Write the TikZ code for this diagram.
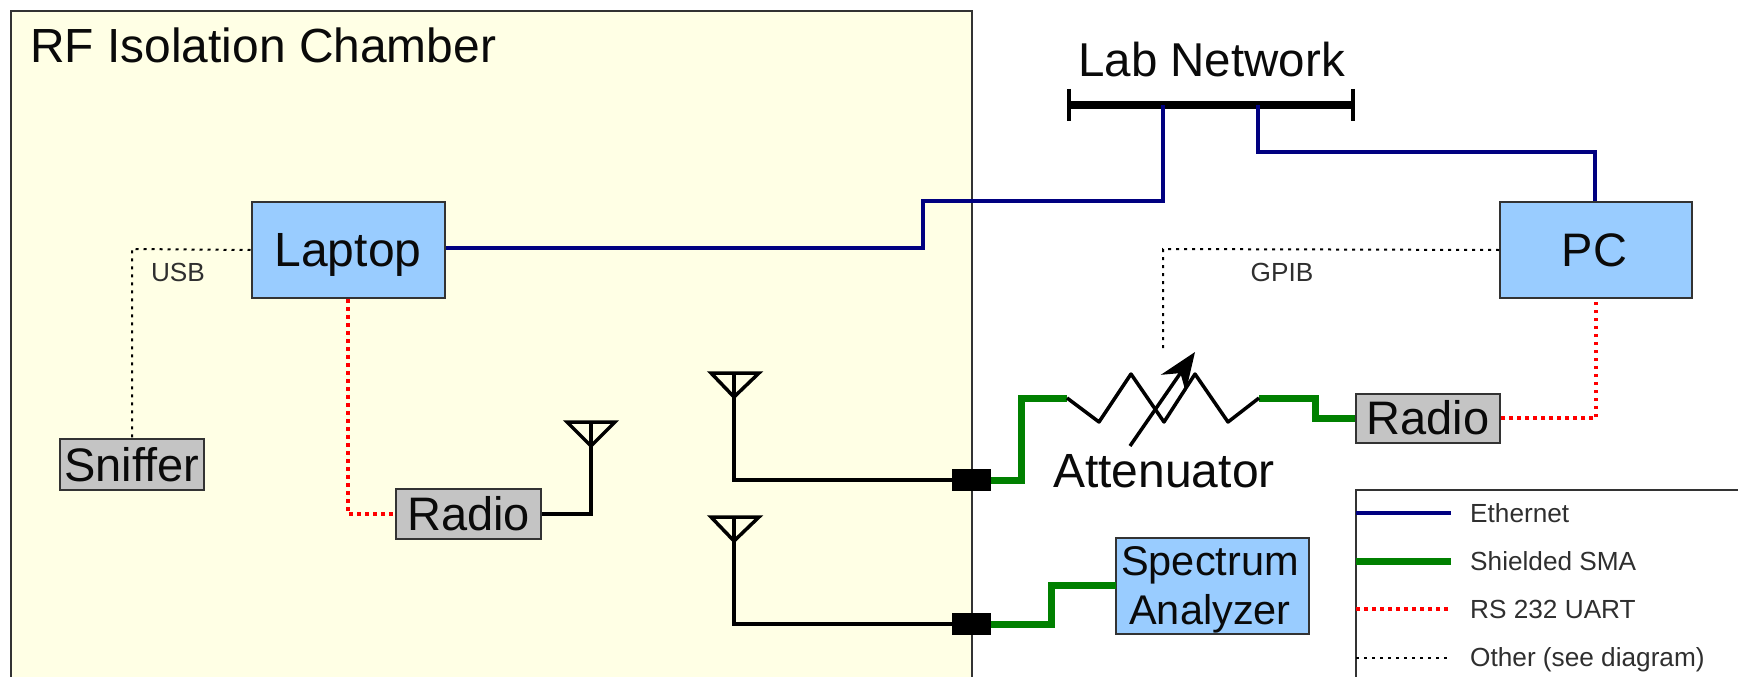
\documentclass[tikz,border=0pt]{standalone}
\usepackage{fontspec}
\setmainfont{Liberation Sans}
\usetikzlibrary{arrows.meta}
\definecolor{chamberfill}{HTML}{FFFFE5}
\definecolor{boxblue}{HTML}{99CCFF}
\definecolor{boxgray}{HTML}{C4C4C4}
\definecolor{edge}{HTML}{333333}
\definecolor{navyline}{HTML}{000080}
\definecolor{sma}{HTML}{008000}
\definecolor{textcol}{HTML}{0A0A0A}
\newcommand{\boxtext}[1]{\raisebox{-16.5pt}[0pt][0pt]{#1}}
\tikzset{
  x=1pt,y=-1pt,
  bigfont/.style={font=\fontsize{47}{49}\selectfont,text=textcol},
  smallfont/.style={font=\fontsize{26.2}{27}\selectfont,text=textcol!85!white},
  device/.style={draw=edge,line width=2pt,fill=boxblue,inner sep=0pt,bigfont},
  graybox/.style={draw=edge,line width=2pt,fill=boxgray,inner sep=0pt,bigfont},
  plainlabel/.style={inner sep=0pt,anchor=base west},
  eth/.style={draw=navyline,line width=3.5pt,line join=miter},
  shielded/.style={draw=sma,line width=7pt,line join=miter},
  uart/.style={draw=red,line width=3.5pt,dash pattern=on 3.5pt off 4.5pt},
  other/.style={draw=black,line width=2pt,dash pattern=on 3pt off 5pt},
  wire/.style={draw=black,line width=3.5pt,line join=miter},
  resist/.style={draw=black,line width=3.5pt,line join=round},
  port/.style={fill=black,draw=none,minimum width=39pt,minimum height=22pt,inner sep=0pt},
}
\begin{document}
\begin{tikzpicture}
\clip (0,0) rectangle (1738,677);
\fill[white] (0,0) rectangle (1738,677);
% chamber
\draw[draw=edge,line width=2pt,fill=chamberfill] (11,11) rectangle (972,720);
\node[plainlabel,bigfont,font=\fontsize{47.9}{49}\selectfont] (title) at (30,63) {RF Isolation Chamber};

% lab network
\node[plainlabel,bigfont,font=\fontsize{47.5}{49}\selectfont] (lab) at (1078,77) {Lab Network};
\node[fill=black,minimum width=285pt,minimum height=8pt,inner sep=0pt] (bus) at (1210.5,105) {};
\coordinate (busL) at (1069,89); \coordinate (busLb) at (1069,121);
\coordinate (busR) at (1353,89); \coordinate (busRb) at (1353,121);
\draw[wire] (busL) -- (busLb);
\draw[wire] (busR) -- (busRb);
\coordinate (busA) at (1163,105);
\coordinate (busB) at (1258,105);

% devices
\node[device,minimum width=193pt,minimum height=96pt,font=\fontsize{48}{49}\selectfont] (laptop) at (348,250) {\boxtext{Laptop}};
\node[device,minimum width=192pt,minimum height=96pt] (pc) at (1596,250) {\kern-3pt\boxtext{PC}};
\node[graybox,minimum width=144pt,minimum height=51pt] (sniffer) at (132,464.5) {\boxtext{Sniffer}};
\node[graybox,minimum width=145pt,minimum height=50pt] (radioA) at (468.5,514) {\boxtext{Radio}};
\node[graybox,minimum width=144pt,minimum height=49pt] (radioB) at (1428,418) {\boxtext{Radio}};
\node[device,minimum width=193pt,minimum height=96pt,font=\fontsize{41.5}{48.5}\selectfont] (spec) at (1212.5,586) {\kern-5pt\raisebox{-10.5pt}[0pt][0pt]{\begin{tabular}{@{}c@{}}Spectrum\\Analyzer\end{tabular}}};

% ethernet
\coordinate (e1) at (923,201);
\draw[eth] ([yshift=2pt]laptop.east) -| (e1) -| (busA);
\coordinate (e2) at (1595,152);
\draw[eth] (busB) |- (e2) -- (pc.north -| e2);

% other
\coordinate (u1) at (132,249);
\draw[other] (laptop.west) -- (u1) -- (sniffer.north);
\node[smallfont,inner sep=0pt] (usb) at (178,272) {USB};
\coordinate (g1) at (1163,249);
\coordinate (g2) at (1163,349);
\draw[other] (pc.west) -- (g1) -- (g2);
\node[smallfont,inner sep=0pt] (gpib) at (1282,272) {GPIB};

% uart
\draw[uart] (laptop.south) |- (radioA.west);
\draw[uart] (radioB.east) -| (pc.south);

% antennas
\coordinate (a1tip) at (734,397); \coordinate (a1l) at (711,373); \coordinate (a1r) at (759,373); \coordinate (a1t) at (734,373);
\coordinate (a2tip) at (734,541); \coordinate (a2l) at (711,517); \coordinate (a2r) at (759,517); \coordinate (a2t) at (734,517);
\coordinate (a3tip) at (591,446); \coordinate (a3l) at (567,422); \coordinate (a3r) at (615,422); \coordinate (a3t) at (591,422);
\draw[wire] (a1l) -- (a1r) -- (a1tip) -- cycle;
\draw[wire] (a2l) -- (a2r) -- (a2tip) -- cycle;
\draw[wire] (a3l) -- (a3r) -- (a3tip) -- cycle;

\node[port] (p1) at (971.5,480) {};
\node[port] (p2) at (971.5,624) {};
\draw[wire] (a1t) -- (a1tip) |- (p1.west);
\draw[wire] (a2t) -- (a2tip) |- (p2.west);
\draw[wire] (radioA.east) -| (a3tip) -- (a3t);

% shielded
\coordinate (z0) at (1067,398);
\coordinate (z6) at (1259,398);
\coordinate (s1) at (1315,398);
\draw[shielded] (p1.east) -| (z0 -| 1021,398) -- (z0);
\draw[shielded] (z6) -- (s1) |- (radioB.west);
\coordinate (s2) at (1051,585);
\coordinate (s3) at (1116,585);
\draw[shielded] (p2.east) -| (s2) -- (s3);

% attenuator
\draw[resist] (z0) -- (1099,422) -- (1131,374) -- (1164,422) -- (1195,374) -- (1228,422) -- (z6);
\coordinate (arrS) at (1130,446);
\coordinate (arrE) at (1195,352);
\draw[black,line width=3.5pt,-{Stealth[length=38pt,width=30pt]}] (arrS) -- (arrE);
\node[plainlabel,bigfont,font=\fontsize{48}{49}\selectfont] (att) at (1053,487) {Attenuator};

% legend
\draw[draw=edge,line width=2pt,fill=white] (1356,490) rectangle (1760,720);
\coordinate (l1) at (1356,513); \coordinate (l1e) at (1451,513);
\coordinate (l2) at (1356,561); \coordinate (l2e) at (1451,561);
\coordinate (l3) at (1356,609); \coordinate (l3e) at (1451,609);
\coordinate (l4) at (1356,658); \coordinate (l4e) at (1451,658);
\draw[eth] (l1) -- (l1e);
\draw[shielded] (l2) -- (l2e);
\draw[uart] (l3) -- (l3e);
\draw[other] (l4) -- (l4e);
\node[plainlabel,smallfont] (t1) at (1470,522) {Ethernet};
\node[plainlabel,smallfont] (t2) at (1470,570) {Shielded SMA};
\node[plainlabel,smallfont] (t3) at (1470,618) {RS 232 UART};
\node[plainlabel,smallfont] (t4) at (1470,666) {Other (see diagram)};
\end{tikzpicture}
\end{document}
